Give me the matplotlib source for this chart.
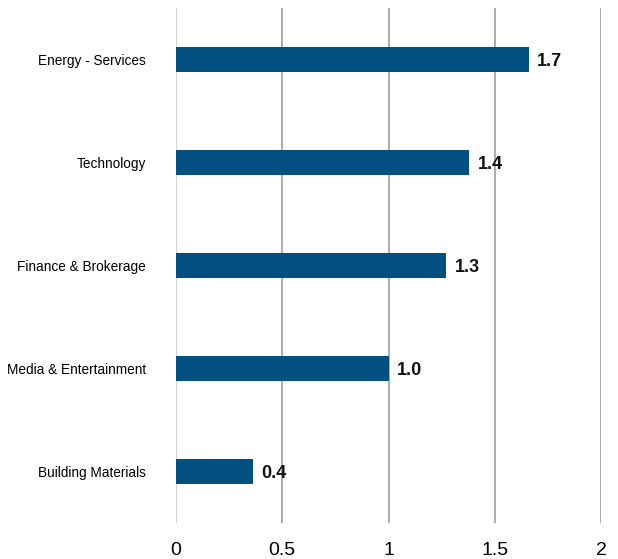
import matplotlib
matplotlib.use("Agg")
import matplotlib.pyplot as plt
from matplotlib import font_manager

categories = ["Energy - Services", "Technology", "Finance & Brokerage",
              "Media & Entertainment", "Building Materials"]
values = [1.66, 1.38, 1.27, 1.00, 0.36]
xticks = [0, 0.5, 1, 1.5, 2]
xtick_labels = ["0", "0.5", "1", "1.5", "2"]

names = {f.name for f in font_manager.fontManager.ttflist}
narrow = "Liberation Sans Narrow" if "Liberation Sans Narrow" in names else "Liberation Sans"
plt.rcParams["font.family"] = [narrow, "DejaVu Sans"]

fig = plt.figure(figsize=(6.18, 5.59), dpi=100)
ax = fig.add_axes([0.2848, 0.0644, 0.6877, 0.9213])

bar_color = "#01507F"
ypos = list(range(len(categories)))
ax.barh(ypos, values, height=0.245, color=bar_color, zorder=3)

for y, v in zip(ypos, values):
    ax.text(v + 0.04, y + 0.02, f"{v:.1f}", va="center", ha="left",
            fontsize=13, fontweight="bold", color="#111111", zorder=4)

ax.set_xlim(0, 2)
ax.set_ylim(len(categories) - 0.5, -0.5)
ax.set_yticks(ypos)
ax.set_yticklabels(categories, fontsize=9.8)
ax.set_xticks(xticks)
ax.set_xticklabels(xtick_labels, fontsize=14)

ax.tick_params(axis="y", length=0, pad=21.5)
ax.tick_params(axis="x", length=0, pad=14)

for x in xticks:
    ax.axvline(x, color="#cfcfcf" if x == 0 else "#a6a6a6", lw=1.3, zorder=1)

for s in ax.spines.values():
    s.set_visible(False)

fig.savefig("out.png", dpi=100, facecolor="white")
